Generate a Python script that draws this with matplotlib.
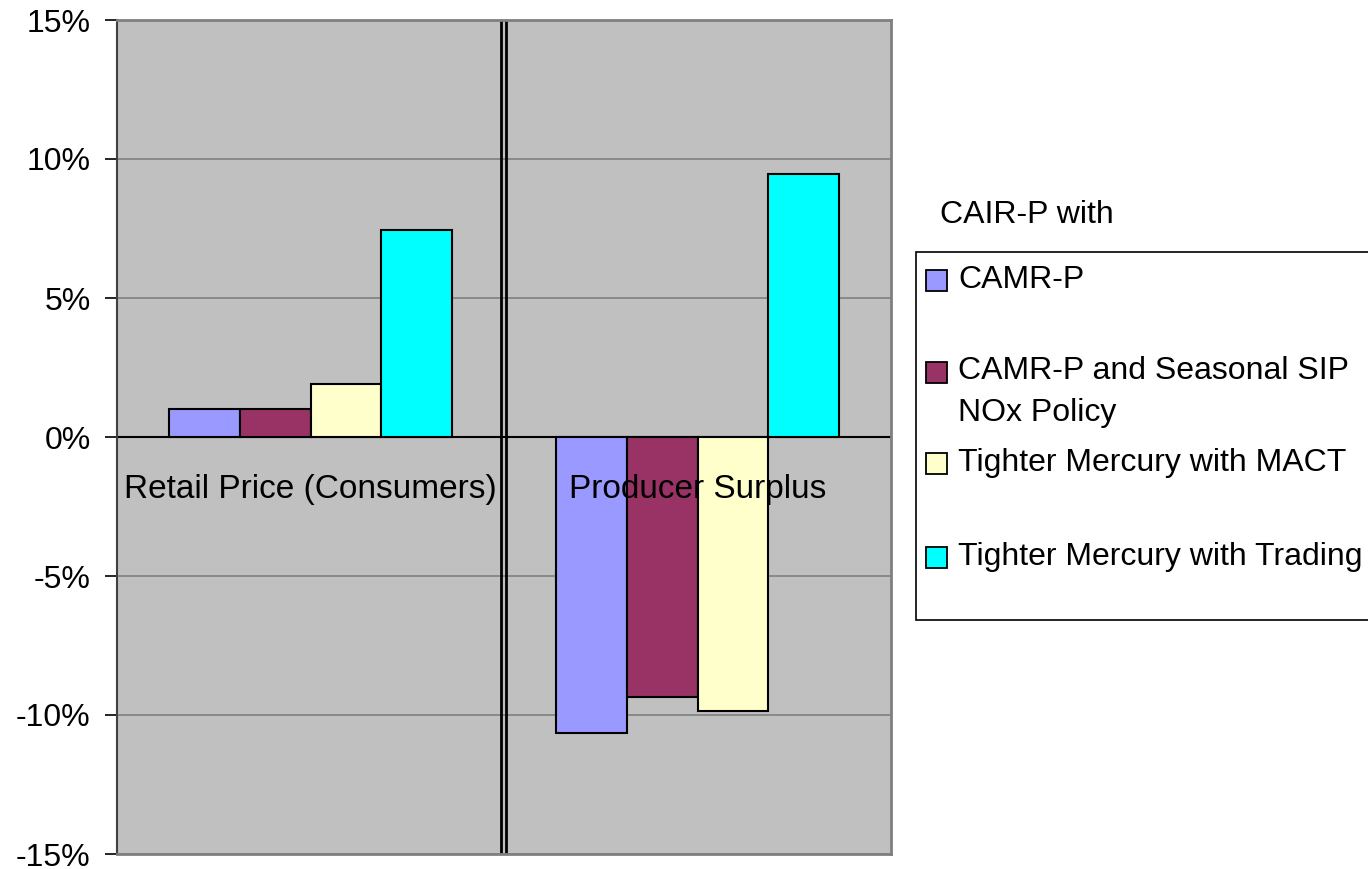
import matplotlib.pyplot as plt
from matplotlib.patches import Rectangle
from matplotlib.ticker import FuncFormatter

plt.rcParams['font.family'] = ['Liberation Sans', 'DejaVu Sans']

categories = ["Retail Price (Consumers)", "Producer Surplus"]
series = ["CAMR-P", "CAMR-P and Seasonal SIP\nNOx Policy",
          "Tighter Mercury with MACT", "Tighter Mercury with Trading"]
values = [
    [1.0, -10.65],   # CAMR-P
    [1.0, -9.35],    # CAMR-P and Seasonal SIP NOx Policy
    [1.9, -9.85],    # Tighter Mercury with MACT
    [7.45, 9.45],    # Tighter Mercury with Trading
]
colors = ["#9999FF", "#993366", "#FFFFCC", "#00FFFF"]
yticks = [-15, -10, -5, 0, 5, 10, 15]

W, H = 1368, 869
fig = plt.figure(figsize=(W / 100, H / 100), dpi=100)
ax = fig.add_axes([117 / W, 1 - 854 / H, (891 - 117) / W, (854 - 20) / H])
ax.set_facecolor("#C0C0C0")

width = 0.183
for i, (vals, c) in enumerate(zip(values, colors)):
    xs = [k + (i - 1.5) * width for k in range(len(categories))]
    ax.bar(xs, vals, width=width, color=c, edgecolor="black", linewidth=1.5, zorder=3)

for k, name in enumerate(categories):
    ax.text(k, -1.9, name, ha="center", va="center", fontsize=24, zorder=4)

ax.set_xlim(-0.5, 1.5)
ax.set_ylim(-15, 15)
ax.set_yticks(yticks)
ax.yaxis.set_major_formatter(FuncFormatter(lambda v, p: f"{v:.0f}%"))
ax.tick_params(axis="y", labelsize=23, length=9, width=1.2, pad=10, direction="out")
ax.set_xticks([])
ax.grid(axis="y", color="#808080", linewidth=1.2, zorder=1)
ax.axhline(0, color="black", linewidth=1.5, zorder=2)
ax.axvline(0.492, color="black", linewidth=2, zorder=2)
ax.axvline(0.504, color="black", linewidth=2, zorder=2)

for s in ["top", "right", "bottom"]:
    ax.spines[s].set_color("#808080")
    ax.spines[s].set_linewidth(2)
ax.spines["left"].set_color("#404040")
ax.spines["left"].set_linewidth(1.5)

# legend drawn in pixel coords
def px(x, y):
    return x / W, 1 - y / H

fig.text(*px(940, 215), "CAIR-P with", fontsize=23, ha="left", va="center")
bx0, by0 = px(916, 620)
bx1, by1 = px(1372, 252)
fig.patches.append(Rectangle((bx0, by0), bx1 - bx0, by1 - by0, transform=fig.transFigure,
                             facecolor="white", edgecolor="black", linewidth=1.2))
rows = [280, 392, 463, 557]
for lab, c, yc in zip(series, colors, rows):
    first_y = yc if "\n" not in lab else yc - 20
    mx, my = px(926, first_y + 11)
    fig.patches.append(Rectangle((mx, my), 21 / W, 21 / H, transform=fig.transFigure,
                                 facecolor=c, edgecolor="black", linewidth=1.3))
    fig.text(*px(958, yc), lab, fontsize=23, ha="left", va="center", linespacing=1.5)

fig.savefig("out.png", dpi=100)
